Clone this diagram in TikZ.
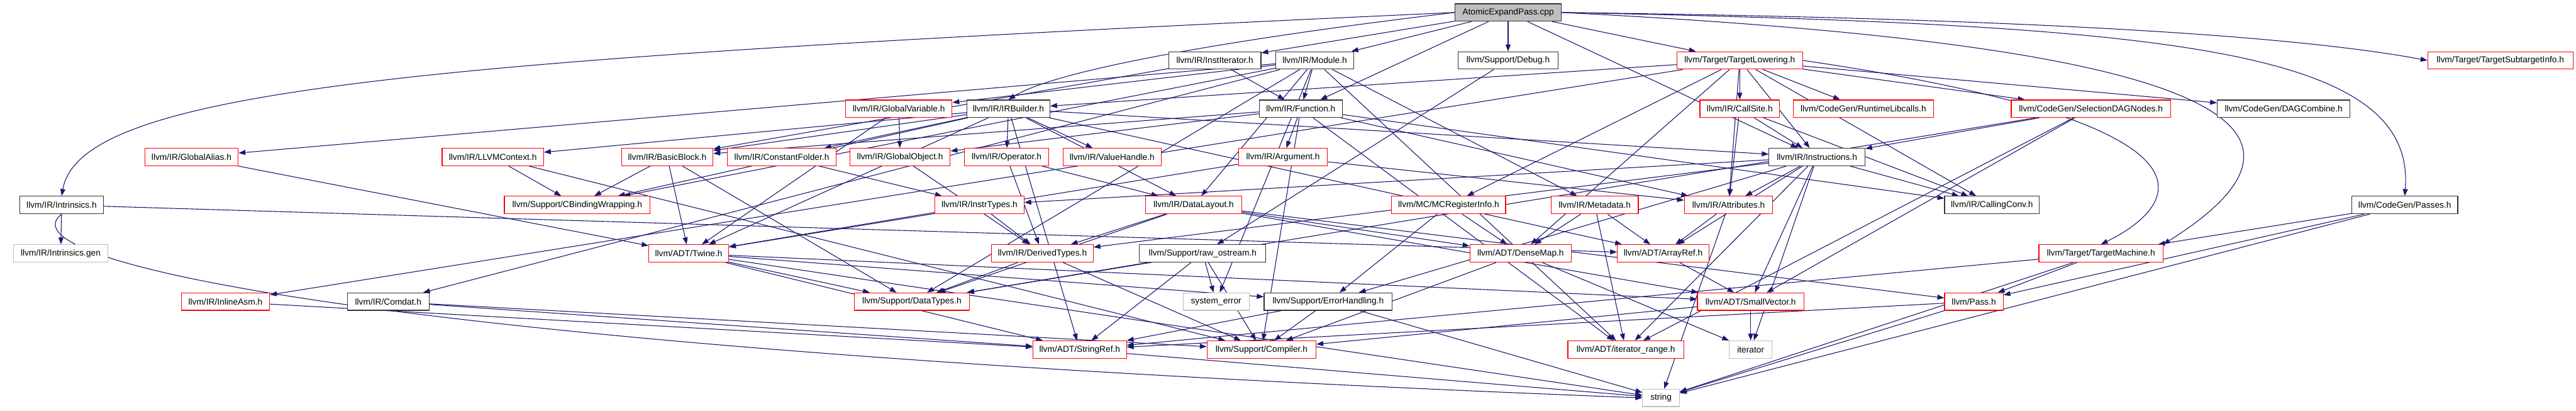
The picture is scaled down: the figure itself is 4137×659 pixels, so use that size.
\documentclass[tikz,border=0pt]{standalone}
\usepackage{xcolor}
\usepackage{fontspec}
\setmainfont{Liberation Sans}
\usepackage{tikz}
\usetikzlibrary{arrows.meta,backgrounds}

\definecolor{midnight}{HTML}{191970}
\definecolor{boxgray}{HTML}{BFBFBF}

\tikzset{
  filebox/.style={rectangle, draw, line width=1.2pt, fill=white, minimum height=28pt,
    inner xsep=3pt, inner ysep=0pt, font=\fontsize{13.9}{16}\selectfont},
  redbox/.style={filebox, draw=red},
  blackbox/.style={filebox, draw=black!80},
  graybox/.style={filebox, draw=boxgray},
  rootbox/.style={filebox, draw=black!80, fill=boxgray},
  incl/.style={draw=midnight, line width=1.1pt, -{Triangle[length=11pt,width=8pt]}}
}

\begin{document}
\begin{tikzpicture}[x=1pt, y=-1pt]
\useasboundingbox (0,0) rectangle (4137,659);

% Row 0: the source file
\node[rootbox, minimum width=170pt] (A) at (2422,20) {AtomicExpandPass.cpp};

% Row 1
\node[blackbox, minimum width=148pt] (instit) at (1951,97) {llvm/IR/InstIterator.h};
\node[blackbox, minimum width=125pt] (module) at (2111.5,97) {llvm/IR/Module.h};
\node[blackbox, minimum width=160pt] (debug) at (2422,97) {llvm/Support/Debug.h};
\node[redbox, minimum width=202pt] (tlow) at (2794,97) {llvm/Target/TargetLowering.h};
\node[redbox, minimum width=233pt] (tsub) at (4015.5,97) {llvm/Target/TargetSubtargetInfo.h};

% Row 2
\node[redbox, minimum width=171pt] (gvar) at (1443.5,174.5) {llvm/IR/GlobalVariable.h};
\node[blackbox, minimum width=133pt] (irb) at (1619.5,174.5) {llvm/IR/IRBuilder.h};
\node[blackbox, minimum width=133pt] (func) at (2089,174.5) {llvm/IR/Function.h};
\node[redbox, minimum width=128pt] (csite) at (2794,174.5) {llvm/IR/CallSite.h};
\node[redbox, minimum width=225pt] (rtlib) at (2992.5,174.5) {llvm/CodeGen/RuntimeLibcalls.h};
\node[redbox, minimum width=256pt] (sdag) at (3358,174.5) {llvm/CodeGen/SelectionDAGNodes.h};
\node[blackbox, minimum width=213pt] (dagc) at (3667.5,174.5) {llvm/CodeGen/DAGCombine.h};

% Row 3
\node[redbox, minimum width=150pt] (galias) at (307.5,252) {llvm/IR/GlobalAlias.h};
\node[redbox, minimum width=163pt] (ctx) at (791.5,252) {llvm/IR/LLVMContext.h};
\node[redbox, minimum width=147pt] (bb) at (1071.5,252) {llvm/IR/BasicBlock.h};
\node[redbox, minimum width=175pt] (cfold) at (1255.5,252) {llvm/IR/ConstantFolder.h};
\node[redbox, minimum width=161pt] (gobj) at (1445.5,252) {llvm/IR/GlobalObject.h};
\node[redbox, minimum width=135pt] (oper) at (1616.5,252) {llvm/IR/Operator.h};
\node[redbox, minimum width=158pt] (vh) at (1786,252) {llvm/IR/ValueHandle.h};
\node[redbox, minimum width=143pt] (arg) at (2060.5,252) {llvm/IR/Argument.h};
\node[blackbox, minimum width=154pt] (instr) at (2918,252) {llvm/IR/Instructions.h};

% Row 4
\node[blackbox, minimum width=135pt] (intr) at (99,329) {llvm/IR/Intrinsics.h};
\node[redbox, minimum width=234pt] (cbw) at (927,329) {llvm/Support/CBindingWrapping.h};
\node[redbox, minimum width=143pt] (itypes) at (1573,329) {llvm/IR/InstrTypes.h};
\node[redbox, minimum width=154pt] (dl) at (1917,329) {llvm/IR/DataLayout.h};
\node[redbox, minimum width=183pt] (mcri) at (2326.5,329) {llvm/MC/MCRegisterInfo.h};
\node[redbox, minimum width=140pt] (meta) at (2561,329) {llvm/IR/Metadata.h};
\node[redbox, minimum width=142pt] (attr) at (2776,329) {llvm/IR/Attributes.h};
\node[blackbox, minimum width=152pt] (cconv) at (3199,329) {llvm/IR/CallingConv.h};
\node[blackbox, minimum width=170pt] (passes) at (3862,329) {llvm/CodeGen/Passes.h};

% Row 5
\node[graybox, minimum width=151pt] (igen) at (97.5,406.7) {llvm/IR/Intrinsics.gen};
\node[redbox, minimum width=128pt] (twine) at (1106,406.7) {llvm/ADT/Twine.h};
\node[redbox, minimum width=163pt] (dtypes) at (1674,406.7) {llvm/IR/DerivedTypes.h};
\node[blackbox, minimum width=203pt] (raw) at (1931.5,406.7) {llvm/Support/raw\_ostream.h};
\node[redbox, minimum width=163pt] (dmap) at (2442,406.7) {llvm/ADT/DenseMap.h};
\node[redbox, minimum width=147pt] (aref) at (2671,406.7) {llvm/ADT/ArrayRef.h};
\node[redbox, minimum width=199pt] (tm) at (3374,406.7) {llvm/Target/TargetMachine.h};

% Row 6
\node[redbox, minimum width=142pt] (iasm) at (362,484) {llvm/IR/InlineAsm.h};
\node[blackbox, minimum width=131pt] (comdat) at (623.5,484) {llvm/IR/Comdat.h};
\node[redbox, minimum width=185pt] (dtS) at (1464.5,484) {llvm/Support/DataTypes.h};
\node[graybox, minimum width=106pt] (syserr) at (1953,484) {system\_error};
\node[blackbox, minimum width=206pt] (errh) at (2133,484) {llvm/Support/ErrorHandling.h};
\node[redbox, minimum width=171pt] (svec) at (2811.5,484) {llvm/ADT/SmallVector.h};
\node[redbox, minimum width=94pt] (pass) at (3170,484) {llvm/Pass.h};

% Row 7
\node[redbox, minimum width=150pt] (sref) at (1734,561) {llvm/ADT/StringRef.h};
\node[redbox, minimum width=175pt] (comp) at (2026,561) {llvm/Support/Compiler.h};
\node[redbox, minimum width=186pt] (irange) at (2611,561) {llvm/ADT/iterator\_range.h};
\node[graybox, minimum width=69pt] (iter) at (2811.5,561) {iterator};

% Row 8
\node[graybox, minimum width=59pt] (string) at (2667.5,638.5) {string};

% Include edges (drawn behind the boxes)
\begin{scope}[on background layer]
  % AtomicExpandPass.cpp
  \draw[incl] (A.west) .. controls (700,95) and (130,140) .. (intr.north);
  \draw[incl] (A) -- (instit);
  \draw[incl] (A.west) .. controls (2000,60) and (1700,110) .. (irb.north);
  \draw[incl] (A) -- (module);
  \draw[incl] (A) -- (func);
  \draw[incl] (A) -- (debug);
  \draw[incl] (A) -- (instr);
  \draw[incl] (A) -- (tlow);
  \draw[incl] (A.east) .. controls (3300,30) and (3700,60) .. (tsub.west);
  \draw[incl] (A.east) .. controls (3500,40) and (3880,80) .. (passes.north);
  \draw[incl] (A.east) .. controls (3300,60) and (3860,150) .. (tm.north east);
  % InstIterator.h
  \draw[incl] (instit) -- (func);
  \draw[incl] (instit) -- (bb);
  % Module.h
  \draw[incl] (module) -- (galias);
  \draw[incl] (module) -- (gvar);
  \draw[incl] (module) -- (func);
  \draw[incl] (module) -- (comdat);
  \draw[incl] (module) -- (cbw);
  \draw[incl] (module) -- (dl);
  \draw[incl] (module) -- (meta);
  \draw[incl] (module) -- (dtS);
  \draw[incl] (module) -- (syserr);
  \draw[incl] (module) -- (irange);
  % Debug.h
  \draw[incl] (debug) -- (raw);
  % TargetLowering.h
  \draw[incl] (tlow) -- (irb);
  \draw[incl] (tlow) -- (iasm);
  \draw[incl] (tlow) -- (csite);
  \draw[incl] (tlow) -- (rtlib);
  \draw[incl] (tlow) -- (sdag);
  \draw[incl] (tlow) -- (dagc);
  \draw[incl] (tlow) -- (instr);
  \draw[incl] (tlow) -- (attr);
  \draw[incl] (tlow) -- (cconv);
  \draw[incl] (tlow) -- (mcri);
  \draw[incl] (tlow) -- (dmap);
  \draw[incl] (tlow.east) .. controls (3600,200) and (3500,330) .. (tm.north);
  % GlobalVariable.h
  \draw[incl] (gvar) -- (gobj);
  \draw[incl] (gvar) -- (twine);
  % IRBuilder.h
  \draw[incl] (irb) -- (ctx);
  \draw[incl] (irb) -- (bb);
  \draw[incl] (irb) -- (cfold);
  \draw[incl] (irb) -- (oper);
  \draw[incl] (irb) -- (vh);
  \draw[incl] (irb) -- (instr);
  \draw[incl] (irb) -- (cbw);
  \draw[incl] (irb) -- (dl);
  \draw[incl] (irb) -- (twine);
  \draw[incl] (irb) -- (aref);
  \draw[incl] (irb) -- (sref);
  % Function.h
  \draw[incl] (func) -- (arg);
  \draw[incl] (func) -- (bb);
  \draw[incl] (func) -- (gobj);
  \draw[incl] (func) -- (attr);
  \draw[incl] (func) -- (cconv);
  \draw[incl] (func) -- (irange);
  \draw[incl] (func) -- (comp);
  % CallSite.h
  \draw[incl] (csite) -- (instr);
  \draw[incl] (csite) -- (attr);
  \draw[incl] (csite) -- (cconv);
  % SelectionDAGNodes.h
  \draw[incl] (sdag) -- (instr);
  \draw[incl] (sdag) -- (svec);
  \draw[incl] (sdag) -- (irange);
  \draw[incl] (sdag) -- (dtS);
  % row 3 headers
  \draw[incl] (galias) -- (twine);
  \draw[incl] (ctx) -- (cbw);
  \draw[incl] (ctx) -- (comp);
  \draw[incl] (bb) -- (cbw);
  \draw[incl] (bb) -- (twine);
  \draw[incl] (bb) -- (dtS);
  \draw[incl] (cfold) -- (itypes);
  \draw[incl] (gobj) -- (dtypes);
  \draw[incl] (oper) -- (dtypes);
  \draw[incl] (oper) -- (dl);
  \draw[incl] (arg) -- (twine);
  \draw[incl] (arg) -- (attr);
  % Instructions.h
  \draw[incl] (instr) -- (itypes);
  \draw[incl] (instr) -- (dtypes);
  \draw[incl] (instr) -- (attr);
  \draw[incl] (instr) -- (cconv);
  \draw[incl] (instr) -- (aref);
  \draw[incl] (instr) -- (svec);
  \draw[incl] (instr) -- (errh);
  \draw[incl] (instr) -- (irange);
  \draw[incl] (instr) -- (iter);
  % Intrinsics.h
  \draw[incl] (intr) -- (igen);
  \draw[incl] (intr) -- (aref);
  \draw[incl] (intr.south) .. controls (0,420) and (600,560) .. (string.west);
  % row 4 headers
  \draw[incl] (itypes) -- (dtypes);
  \draw[incl] (itypes) -- (twine);
  \draw[incl] (dl) -- (dtypes);
  \draw[incl] (dl) -- (dtS);
  \draw[incl] (dl) -- (dmap);
  \draw[incl] (dl) -- (svec);
  \draw[incl] (dl) -- (pass);
  \draw[incl] (mcri) -- (dmap);
  \draw[incl] (mcri) -- (errh);
  \draw[incl] (meta) -- (dmap);
  \draw[incl] (meta) -- (aref);
  \draw[incl] (meta) -- (irange);
  \draw[incl] (attr) -- (aref);
  \draw[incl] (attr) -- (string);
  \draw[incl] (passes) -- (tm);
  \draw[incl] (passes) -- (pass);
  \draw[incl] (passes) -- (string);
  % row 5 headers
  \draw[incl] (twine) -- (dtS);
  \draw[incl] (twine) -- (errh);
  \draw[incl] (twine) -- (sref);
  \draw[incl] (twine) -- (svec);
  \draw[incl] (twine) -- (string);
  \draw[incl] (dtypes) -- (dtS);
  \draw[incl] (dtypes) -- (comp);
  \draw[incl] (raw) -- (dtS);
  \draw[incl] (raw) -- (syserr);
  \draw[incl] (raw) -- (sref);
  \draw[incl] (raw) -- (comp);
  \draw[incl] (dmap) -- (comp);
  \draw[incl] (dmap) -- (iter);
  \draw[incl] (aref) -- (svec);
  \draw[incl] (tm) -- (pass);
  \draw[incl] (tm) -- (sref);
  \draw[incl] (tm) -- (string);
  % row 6 headers
  \draw[incl] (iasm) -- (sref);
  \draw[incl] (comdat) -- (sref);
  \draw[incl] (comdat) -- (comp);
  \draw[incl] (errh) -- (sref);
  \draw[incl] (errh) -- (comp);
  \draw[incl] (errh) -- (string);
  \draw[incl] (svec) -- (comp);
  \draw[incl] (svec) -- (iter);
  \draw[incl] (pass) -- (sref);
  \draw[incl] (pass) -- (string);
  % row 7 headers
  \draw[incl] (sref) -- (string);
\end{scope}

\end{tikzpicture}
\end{document}
